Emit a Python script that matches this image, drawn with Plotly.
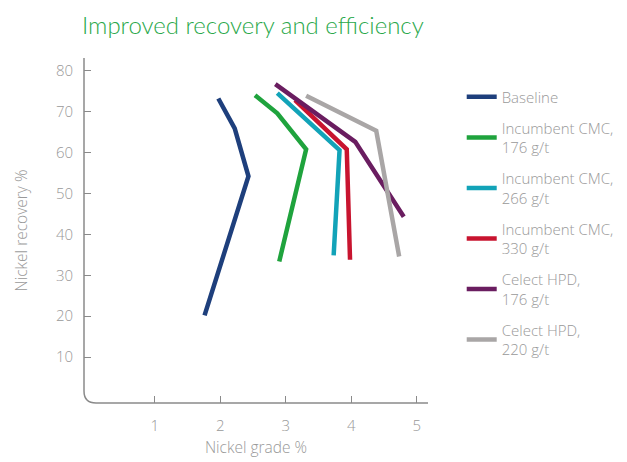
import plotly.graph_objects as go

names = ["Baseline", "Incumbent CMC,<br>176 g/t", "Incumbent CMC,<br>266 g/t",
         "Incumbent CMC,<br>330 g/t", "Celect HPD,<br>176 g/t", "Celect HPD,<br>220 g/t"]
colors = ["#1e3f7c", "#1fa33d", "#12a3b8", "#c8142f", "#6a1d60", "#a9a6a6"]

grade_baseline = [1.97, 2.22, 2.43, 1.76]
rec_baseline = [73.2, 65.9, 54.2, 20.2]
grade_cmc176 = [2.53, 2.87, 3.31, 2.90]
rec_cmc176 = [74.0, 69.6, 60.8, 33.4]
grade_cmc266 = [2.87, 3.82, 3.73]
rec_cmc266 = [74.5, 60.6, 34.9]
grade_cmc330 = [3.14, 3.93, 3.98]
rec_cmc330 = [72.8, 60.8, 33.8]
grade_hpd176 = [2.84, 4.06, 4.80]
rec_hpd176 = [76.7, 62.6, 44.3]
grade_hpd220 = [3.31, 4.38, 4.73]
rec_hpd220 = [73.9, 65.3, 34.6]

xs = [grade_baseline, grade_cmc176, grade_cmc266, grade_cmc330, grade_hpd176, grade_hpd220]
ys = [rec_baseline, rec_cmc176, rec_cmc266, rec_cmc330, rec_hpd176, rec_hpd220]

x_ticks = [1, 2, 3, 4, 5]
y_ticks = [10, 20, 30, 40, 50, 60, 70, 80]

FONT = "Open Sans"
TITLE_FONT = "Lato"
GRAY = "#999999"
AXIS = "#8a8a8a"

fig = go.Figure()
for i, (n, c, x, y) in enumerate(zip(names, colors, xs, ys)):
    fig.add_trace(go.Scatter(x=x, y=y, mode="lines", name=n, legendgroup=str(i),
                             line=dict(color=c, width=4.5)))

W, H = 627, 462
ml, mt = 76, 50
pw, ph = 344, 345
mr, mb = W - ml - pw, H - mt - ph
fig.update_layout(
    width=W, height=H,
    margin=dict(l=ml, r=mr, t=mt, b=mb, autoexpand=False),
    paper_bgcolor="white", plot_bgcolor="white",
    font=dict(family=FONT, color=GRAY, size=15, weight=300),
    title=dict(text="Improved recovery and efficiency", x=74 / W, xanchor="left",
               xref="container", y=1 - 9 / H, yanchor="top", yref="container",
               font=dict(family=TITLE_FONT, size=24, color="#2aa84a", weight=300)),
    xaxis=dict(range=[-0.08, 5.17], tickvals=x_ticks, ticks="inside", ticklen=7,
               tickcolor=AXIS, tickwidth=1.2, showgrid=False, zeroline=False, showline=False,
               tickfont=dict(size=15, color=GRAY), ticklabelstandoff=12, automargin=False,
               title=dict(text="Nickel grade %", font=dict(size=15.5, color=GRAY), standoff=8)),
    yaxis=dict(range=[-1.2, 83.1], tickvals=y_ticks, ticks="inside", ticklen=7,
               tickcolor=AXIS, tickwidth=1.2, showgrid=False, zeroline=False, showline=False,
               tickfont=dict(size=15, color=GRAY), ticklabelstandoff=10, automargin=False,
               title=dict(text="Nickel recovery %", font=dict(size=15.5, color=GRAY), standoff=24)),
    legend=dict(x=1.098, y=0.935, xanchor="left", yanchor="top", tracegroupgap=8.5,
                font=dict(size=15, color=GRAY), itemwidth=30, bgcolor="rgba(0,0,0,0)"),
    showlegend=True,
)

rx, ry = 12 / pw, 12 / ph
path = f"M 0,1 L 0,{ry} Q 0,0 {rx},0 L 1,0"
fig.add_shape(type="path", path=path, xref="paper", yref="paper",
              line=dict(color=AXIS, width=1.5), layer="above")

fig.write_html("out.html")
